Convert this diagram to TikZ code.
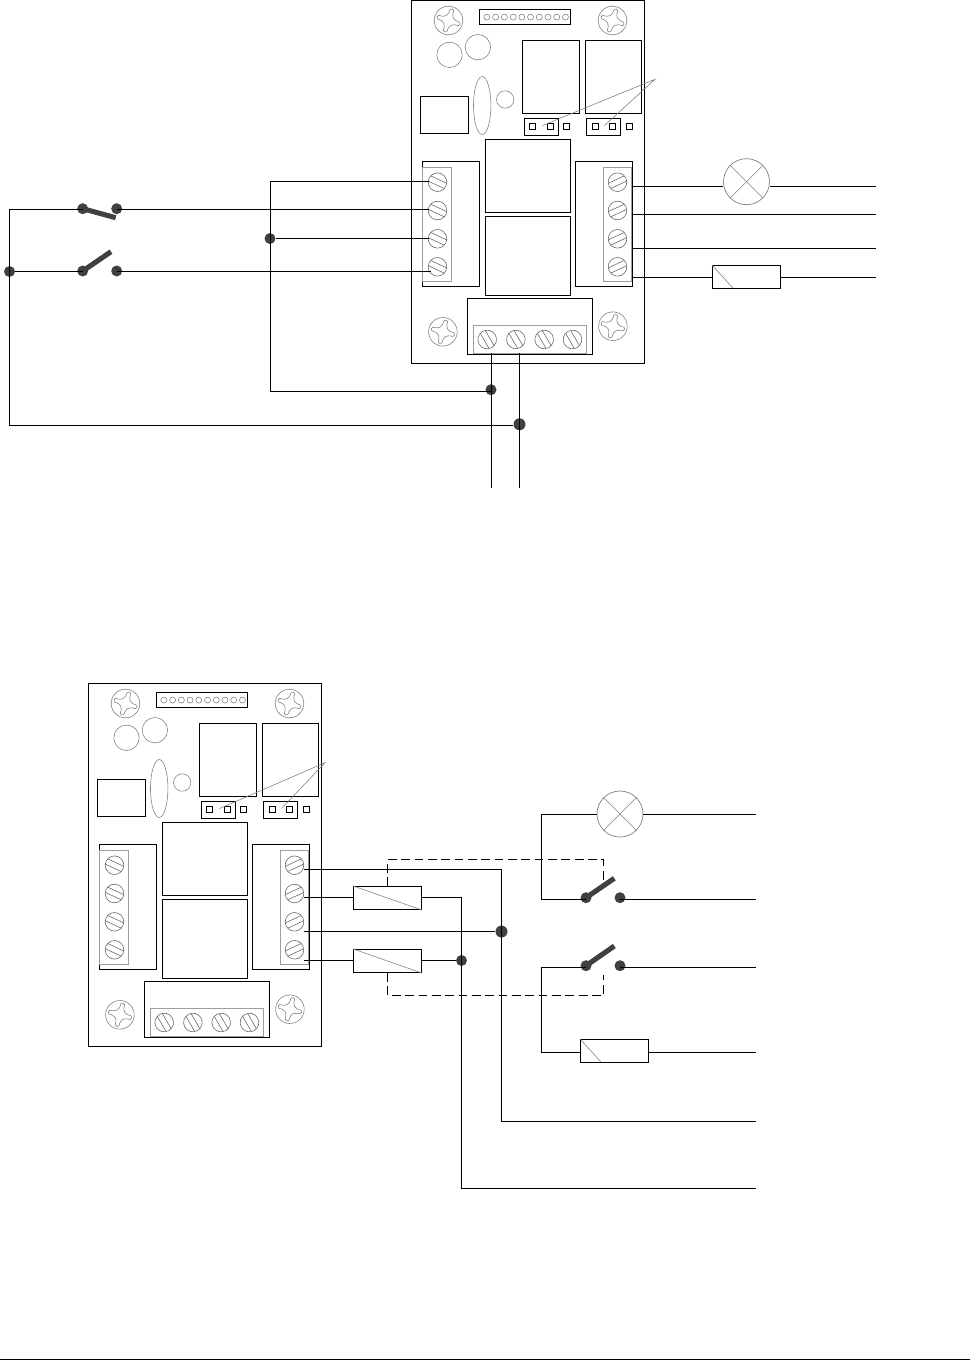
\documentclass[tikz,border=0pt]{standalone}
\usepackage{tikz}

\definecolor{darkdot}{HTML}{404040}

\tikzset{
    box/.style={draw=black, line width=0.7pt},
    wire/.style={draw=black, line width=0.7pt},
    fine/.style={draw=black!50, line width=0.33pt},
    strip/.style={draw=black!38, line width=0.6pt},
    dashlink/.style={draw=black, line width=0.7pt, dash pattern=on 5pt off 2.6pt},
    lever/.style={draw=darkdot, line width=2.9pt},
    joint/.style={circle, fill=darkdot, inner sep=0pt, minimum size=0.22cm},
    bigjoint/.style={circle, fill=darkdot, inner sep=0pt, minimum size=0.24cm},
    lamp/.style={circle, draw=black!50, line width=0.4pt, inner sep=0pt, minimum size=0.92cm},
    coil/.style={draw=black, line width=0.7pt, inner sep=0pt, minimum width=1.36cm, minimum height=0.46cm},
    % screw with a cross slot
    xscrew/.pic={
        \draw[fine] (0,0) circle (14.3);
        \foreach \a in {0,90,180,270} {
            \draw[fine, rotate=\a] (11,-1.9) .. controls (12.4,-1) and (12.4,1) .. (11,1.9) .. controls (4,1.9) and (1.9,4) .. (1.9,11);
        }
    },
    % terminal screw with a slot
    tscrew/.pic={
        \draw[fine, draw=black!60] (0,0) circle (9.3);
        \draw[fine, draw=black!60] (-8.8,-2.9) -- (8.8,-2.9);
        \draw[fine, draw=black!60] (-8.8,2.9) -- (8.8,2.9);
    },
    % the board, its corner at the top left
    pcbboard/.pic={
        \draw[box] (0,0) rectangle (233,363);

        % Header
        \draw[box] (68,9) rectangle (159,24);
        \foreach \i in {0,...,9} {
            \draw[fine] (75.4+8.73*\i,16.6) circle (3);
        }

        % Screws and round parts
        \pic[rotate=-18] at (37,20) {xscrew};
        \pic[rotate=-18] at (201,20) {xscrew};
        \pic[rotate=-15] at (31.4,331.3) {xscrew};
        \pic[rotate=-15] at (201.4,325.7) {xscrew};
        \draw[fine] (38,54.3) circle (12.7);
        \draw[fine] (66.4,46.7) circle (12.7);
        \draw[fine] (70.7,105) ellipse (8.7 and 29);
        \draw[fine] (93.7,99) circle (8.7);

        % Relays and boxes
        \draw[box] (9,96) rectangle (57,133);
        \draw[box] (111,40) rectangle (168,113);
        \draw[box] (174,40) rectangle (230,113);
        \draw[box] (74,139) rectangle (159,212);
        \draw[box] (74,216) rectangle (159,295);

        % Jumpers
        \draw[box] (113,118) rectangle (147,135);
        \draw[box] (175,118) rectangle (209,135);
        \foreach \x in {121,139,155,184,201,218} {
            \draw[box] (\x-3,123) rectangle (\x+3,129);
        }
        \coordinate (-j1) at (131,125);
        \coordinate (-j2) at (193,125);

        % Left terminals
        \draw[box] (11,161) rectangle (68,286);
        \draw[strip] (11,167.3) rectangle (40,280.7);
        \foreach \y in {181.7,210,238.3,266.3} {
            \pic[rotate=-25] at (26,\y) {tscrew};
        }
        \coordinate (-l1) at (17,181);
        \coordinate (-l2) at (17,209);
        \coordinate (-l3) at (17,238);
        \coordinate (-l4) at (19,271);

        % Right terminals
        \draw[box] (164,161) rectangle (221,286);
        \draw[strip] (192.4,167.3) rectangle (220.4,280.7);
        \foreach \y in {181.7,210,238.3,266.3} {
            \pic[rotate=25] at (206,\y) {tscrew};
        }
        \coordinate (-e1) at (221,186);
        \coordinate (-e2) at (221,214);
        \coordinate (-e3) at (221,248);
        \coordinate (-e4) at (221,277);
        \coordinate (-r1) at (215,186);
        \coordinate (-r2) at (215,214);
        \coordinate (-r3) at (215,248);
        \coordinate (-r4) at (215,277);

        % Lower terminals
        \draw[box] (56,298) rectangle (181,354);
        \draw[strip] (62,325) rectangle (175.4,353.3);
        \foreach \x in {75.7,104.4,132.7,161} {
            \pic[rotate=-60] at (\x,339) {tscrew};
        }
        \coordinate (-b1) at (80,352);
        \coordinate (-b2) at (108,352);
    }
}

\begin{document}
\begin{tikzpicture}[x=0.02cm, y=-0.02cm]
\useasboundingbox (0,0) rectangle (970,1360);

% Upper board
\pic (up) at (411.5,0.5) {pcbboard};
\coordinate (up tip) at (655,79.3);
\draw[fine] (up-j1) -- (up tip) -- (up-j2);

% Upper switches
\node[joint] (sw1a) at (82.7,208.7) {};
\node[joint] (sw1b) at (116.7,208.7) {};
\node[joint] (sw2a) at (82.7,271) {};
\node[joint] (sw2b) at (116.7,271) {};
\coordinate (sw1end) at (115.7,217.7);
\coordinate (sw2end) at (111,251.7);
\draw[lever] (sw1a.center) -- (sw1end);
\draw[lever] (sw2a.center) -- (sw2end);

% Upper junctions
\node[joint] (ja) at (9.5,271.5) {};
\node[joint] (jb) at (270,238.5) {};
\node[joint] (jc) at (491,389.7) {};
\node[bigjoint] (jd) at (519.5,424.3) {};
\coordinate (corner a) at (9.5,209.5);
\coordinate (corner b) at (9.5,425.5);
\coordinate (bus top) at (270.5,181.5);
\coordinate (bus low) at (270.5,391.5);
\coordinate (mains a) at (491.5,487.5);
\coordinate (mains b) at (519.5,487.5);

% Upper wiring, left
\draw[wire] (sw1a.center |- corner a) -- (corner a) -- (corner b) -- (jd.west |- corner b);
\draw[wire] (ja) -- (sw2a.center |- ja);
\draw[wire] (sw1b.center |- up-l2) -- (up-l2);
\draw[wire] (sw2b.center |- up-l4) -- (up-l4);
\draw[wire] (up-l1) -- (bus top) -- (bus low) -- (jc.center |- bus low);
\draw[wire] (jb) -- (up-l3);
\draw[wire] (up-b1) -- (mains a);
\draw[wire] (up-b2) -- (mains b);

% Upper loads
\node[lamp] (lamp1) at (746.5,181.7) {};
\draw[fine] (lamp1.45) -- (lamp1.225);
\draw[fine] (lamp1.135) -- (lamp1.315);
\node[coil] (load1) at (746.5,277) {};
\draw[fine] (load1.north west) -- ++(21,23);
\coordinate (out1) at (876,186.5);
\coordinate (out2) at (876,214.5);
\coordinate (out3) at (876,248.5);
\coordinate (out4) at (876,277.5);
\draw[wire] (up-e1) -- (lamp1.west |- out1);
\draw[wire] (lamp1.east |- out1) -- (out1);
\draw[wire] (up-e2) -- (out2);
\draw[wire] (up-e3) -- (out3);
\draw[wire] (up-e4) -- (load1.west |- out4);
\draw[wire] (load1.east |- out4) -- (out4);

% Lower board
\pic (low) at (88.5,683.5) {pcbboard};
\coordinate (low tip) at (325,762.7);
\draw[fine] (low-j1) -- (low tip) -- (low-j2);

% Lower coils
\node[coil] (coil1) at (387.5,898) {};
\node[coil] (coil2) at (387.5,961) {};
\draw[fine] (coil1.north west) -- (coil1.south east);
\draw[fine] (coil2.north west) -- (coil2.south east);

% Lower junctions
\node[bigjoint] (je) at (501.5,931.5) {};
\node[joint] (jf) at (461.5,960.5) {};
\coordinate (run1) at (501.5,869.5);
\coordinate (run2) at (461.5,897.5);
\coordinate (leg1) at (501.5,1121.5);
\coordinate (leg2) at (461.5,1188.5);
\coordinate (out5) at (756,1121.5);
\coordinate (out6) at (756,1188.5);

\draw[wire] (low-r1) -- (run1) -- (leg1) -- (out5);
\draw[wire] (low-r2) -- (coil1.west |- low-r2);
\draw[wire] (coil1.east |- run2) -- (run2) -- (leg2) -- (out6);
\draw[wire] (low-r3) -- (je);
\draw[wire] (low-r4) -- (coil2.west |- low-r4);
\draw[wire] (coil2.east |- jf) -- (jf);

% Lower switches
\node[joint] (sw3a) at (586,897.7) {};
\node[joint] (sw3b) at (620,897.7) {};
\node[joint] (sw4a) at (586,965.7) {};
\node[joint] (sw4b) at (620,965.7) {};
\coordinate (sw3end) at (614.3,878.3);
\coordinate (sw4end) at (614.3,946);
\draw[lever] (sw3a.center) -- (sw3end);
\draw[lever] (sw4a.center) -- (sw4end);

% Lower loads
\node[lamp] (lamp2) at (620,814) {};
\draw[fine] (lamp2.45) -- (lamp2.225);
\draw[fine] (lamp2.135) -- (lamp2.315);
\node[coil] (load2) at (614.5,1051) {};
\draw[fine] (load2.north west) -- ++(21,23);
\coordinate (side a) at (541.5,814.5);
\coordinate (side b) at (541.5,899.5);
\coordinate (side c) at (541.5,967.5);
\coordinate (side d) at (541.5,1052.5);
\coordinate (rail a) at (756,814.5);
\coordinate (rail b) at (756,899.5);
\coordinate (rail c) at (756,967.5);
\coordinate (rail d) at (756,1052.5);

\draw[wire] (lamp2.west |- side a) -- (side a) -- (side b) -- (sw3a.center |- side b);
\draw[wire] (lamp2.east |- rail a) -- (rail a);
\draw[wire] (sw3b.center |- rail b) -- (rail b);
\draw[wire] (sw4a.center |- side c) -- (side c) -- (side d) -- (load2.west |- side d);
\draw[wire] (sw4b.center |- rail c) -- (rail c);
\draw[wire] (load2.east |- rail d) -- (rail d);

% Dashed links
\coordinate (d1) at (387.5,859.5);
\coordinate (d2) at (603.5,859.5);
\coordinate (d3) at (603.5,880);
\coordinate (d4) at (387.5,995.5);
\coordinate (d5) at (603.5,995.5);
\coordinate (d6) at (603.5,975);
\draw[dashlink] (coil1.north) -- (d1) -- (d2) -- (d3);
\draw[dashlink] (coil2.south) -- (d4) -- (d5) -- (d6);

% Page rule
\coordinate (rule a) at (0,1359.5);
\coordinate (rule b) at (970,1359.5);
\draw[wire] (rule a) -- (rule b);

\end{tikzpicture}
\end{document}
